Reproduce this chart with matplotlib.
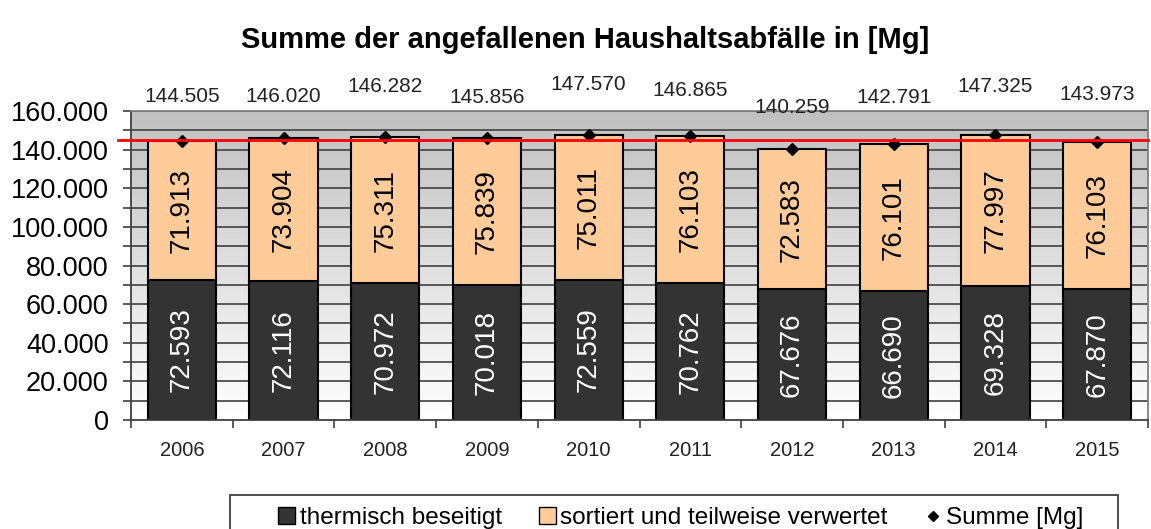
import numpy as np
import matplotlib
matplotlib.use("Agg")
import matplotlib.pyplot as plt
from matplotlib.colors import LinearSegmentedColormap
from matplotlib.ticker import MultipleLocator, FuncFormatter
from matplotlib.lines import Line2D
from matplotlib.patches import Patch, Rectangle

plt.rcParams["font.family"] = ["Liberation Sans", "DejaVu Sans"]

# data
years = ["2006", "2007", "2008", "2009", "2010", "2011", "2012", "2013", "2014", "2015"]
thermisch = [72593, 72116, 70972, 70018, 72559, 70762, 67676, 66690, 69328, 67870]
sortiert = [71913, 73904, 75311, 75839, 75011, 76103, 72583, 76101, 77997, 76103]
summe = [144505, 146020, 146282, 145856, 147570, 146865, 140259, 142791, 147325, 143973]

# vertical pixel offsets of the sum labels (Excel placed them unevenly)
sum_label_dy = [44, 41, 51, 41, 51, 46, 42, 47, 49, 47]

dark = "#333333"
peach = "#ffcc99"


def de_fmt(v, pos=None):
    return f"{int(round(v)):,}".replace(",", ".")


fig = plt.figure(figsize=(11.51, 5.29), dpi=100)
ax = fig.add_axes([131 / 1151, 109 / 529, 1017 / 1151, 309 / 529])

x = np.arange(len(years))
ax.set_xlim(-0.5, len(years) - 0.5)
ax.set_ylim(0, 160000)

# gradient background of the plot area
cmap = LinearSegmentedColormap.from_list("bg", ["#ffffff", "#c0c0c0"])
grad = np.linspace(0, 1, 256).reshape(-1, 1)
ax.imshow(grad, cmap=cmap, aspect="auto", origin="lower",
          extent=[-0.5, len(years) - 0.5, 0, 160000], zorder=0)

# grid every 10.000
for gy in np.arange(10000, 160001, 10000):
    ax.axhline(gy, color="#404040", lw=1.2, zorder=1)

w = 0.67
ax.bar(x, thermisch, w, color=dark, edgecolor="black", lw=1.5, zorder=2)
ax.bar(x, sortiert, w, bottom=thermisch, color=peach, edgecolor="black", lw=1.5, zorder=2)
ax.plot(x, summe, ls="none", marker="D", color="black", ms=6, zorder=4, clip_on=False)

for i in range(len(years)):
    ax.text(x[i], thermisch[i] / 2, de_fmt(thermisch[i]), rotation=90,
            ha="center", va="center", color="white", fontsize=20, zorder=3)
    ax.text(x[i], thermisch[i] + sortiert[i] / 2, de_fmt(sortiert[i]), rotation=90,
            ha="center", va="center", color="black", fontsize=20, zorder=3)
    ax.annotate(de_fmt(summe[i]), (x[i], summe[i]), xytext=(0, sum_label_dy[i]),
                textcoords="offset pixels", ha="center", va="center",
                fontsize=15, color="#222222", annotation_clip=False)

# red line at the mean of all sums, reaching a bit left of the axis
mean_sum = np.mean(summe)
ax.plot([-0.013, 1.0], [mean_sum, mean_sum], color="#ff0000", lw=2,
        transform=ax.get_yaxis_transform(), clip_on=False, zorder=5)

# axes styling
ax.yaxis.set_major_locator(MultipleLocator(20000))
ax.yaxis.set_minor_locator(MultipleLocator(10000))
ax.yaxis.set_major_formatter(FuncFormatter(de_fmt))
ax.tick_params(axis="y", which="both", direction="out", length=6, width=1.2,
               color="#404040", labelsize=19.5, pad=10)
ax.set_xticks(x)
ax.set_xticklabels(years)
ax.set_xticks(np.arange(-0.5, len(years)), minor=True)
ax.tick_params(axis="x", which="major", length=0, labelsize=14.5, pad=15,
               labelcolor="#222222")
ax.tick_params(axis="x", which="minor", direction="out", length=6, width=1.2,
               color="#404040")
for side in ["left", "bottom"]:
    ax.spines[side].set_color("#404040")
    ax.spines[side].set_linewidth(1.3)
for side in ["top", "right"]:
    ax.spines[side].set_color("#808080")
    ax.spines[side].set_linewidth(1.3)

fig.text(0.508, 1 - 40 / 529, "Summe der angefallenen Haushaltsabfälle in [Mg]",
         ha="center", va="center", fontsize=21, fontweight="bold")

# legend frame drawn separately so it can run off the bottom like the original
fig.patches.append(Rectangle((230 / 1151, -0.05), 888 / 1151, 0.05 + 1 - 495 / 529,
                             transform=fig.transFigure, facecolor="white",
                             edgecolor="#404040", lw=1.3, zorder=0))

handles = [
    Patch(facecolor=dark, edgecolor="black", label="thermisch beseitigt"),
    Patch(facecolor=peach, edgecolor="black", label="sortiert und teilweise verwertet"),
    Line2D([], [], ls="none", marker="D", color="black", ms=5, label="Summe [Mg]"),
]
leg = fig.legend(handles=handles, loc="upper left", ncol=3,
                 bbox_to_anchor=(266 / 1151, 1 - 495 / 529), fontsize=17.5,
                 frameon=False, handlelength=0.7, handleheight=0.7,
                 handletextpad=0.2, columnspacing=1.5, borderpad=0.5,
                 borderaxespad=0)

fig.savefig("out.png", dpi=100)
